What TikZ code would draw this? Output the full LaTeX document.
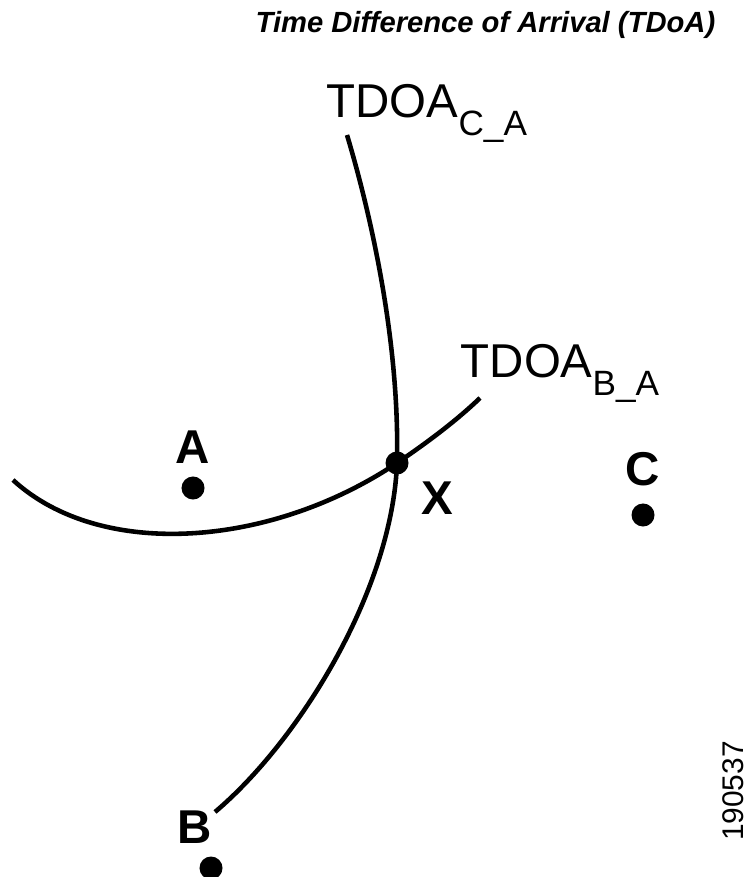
\documentclass[tikz,border=0pt]{standalone}
\usepackage{fontspec}
\setmainfont{Liberation Sans}
\usepackage{tikz}
\usetikzlibrary{positioning}

\tikzset{
	dot/.style={circle, fill=black, inner sep=0pt, minimum size=0.23cm},
	curve/.style={line width=1.3pt},
	ptlabel/.style={inner sep=0pt, font=\fontsize{13.5}{16}\selectfont\bfseries},
	tdoa/.style={inner sep=0pt, anchor=base west, font=\fontsize{13.5}{16}\selectfont},
}
\newcommand{\tdoasub}[1]{\raisebox{-0.17cm}{\fontsize{10}{12}\selectfont #1}}

\begin{document}
\begin{tikzpicture}[x=0.01cm, y=-0.01cm]
		\useasboundingbox (0,0) rectangle (751,877);
		% title
		\node[inner sep=0pt, anchor=base west, font=\fontsize{8.3}{10}\selectfont\bfseries\itshape] (title) at (255,33) {Time Difference of Arrival (TDoA)};
		% ends of the two curves
		\coordinate (ca top) at (347,135);
		\coordinate (ca end) at (215,812);
		\coordinate (ba start) at (13,480);
		\coordinate (ba end) at (480,398);
		% stations and the fix
		\node[dot] (a) at (193,488) {};
		\node[dot] (b) at (211,868) {};
		\node[dot] (c) at (643,515) {};
		\node[dot] (x) at (397,463) {};
		% hyperbolas
		\draw[curve] (ca top) .. controls (365,195) and (400,330) .. (x.center)
			.. controls (392,590) and (300,740) .. (ca end);
		\draw[curve] (ba start) .. controls (100,560) and (270,548) .. (x.center)
			.. controls (425,444) and (455,422) .. (ba end);
		% labels
		\node[ptlabel, above=0.12cm of a] (a label) {A};
		\node[ptlabel, above=0.16cm of c] (c label) {C};
		\node[ptlabel, above=0.12cm of b, xshift=-0.16cm] (b label) {B};
		\node[ptlabel, below right=0.09cm and 0.15cm of x] (x label) {X};
		\node[tdoa] (tdoa ca) at (326,118) {TDOA\tdoasub{C\_A}};
		\node[tdoa] (tdoa ba) at (460,378) {TDOA\tdoasub{B\_A}};
		\node[rotate=90, inner sep=0pt, font=\fontsize{8.5}{10}\selectfont] (fig id) at (733,791) {190537};
	\end{tikzpicture}
\end{document}
